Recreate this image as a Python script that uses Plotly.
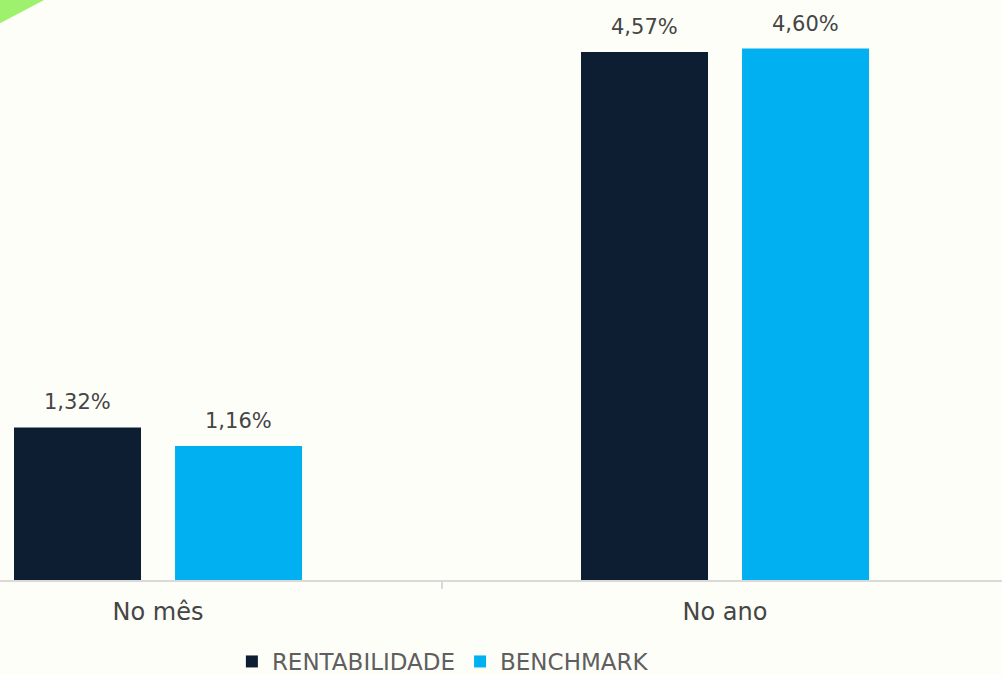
import plotly.graph_objects as go

categories = ["No mês", "No ano"]
rentabilidade = [1.32, 4.57]
benchmark = [1.16, 4.60]
series_names = ["RENTABILIDADE", "BENCHMARK"]
colors = ["#0D1E33", "#00B0F0"]

def fmt(v):
    return f"{v:.2f}".replace(".", ",") + "%"

BAR_W = 0.224
OFFSETS = [-0.254, 0.030]
FONT = "DejaVu Sans"

fig = go.Figure()
for name, vals, col, off in zip(series_names, [rentabilidade, benchmark], colors, OFFSETS):
    fig.add_trace(go.Bar(
        x=categories, y=vals, name=name, marker_color=col,
        width=BAR_W, offset=off, marker_line_width=0,
        hoverinfo="skip",
    ))
    for i, v in enumerate(vals):
        fig.add_annotation(
            x=i + off + BAR_W / 2, y=v, text=fmt(v), showarrow=False,
            yanchor="bottom", yshift=11,
            font=dict(family=FONT, size=21, color="#454545"),
        )

fig.add_shape(
    type="path", xref="paper", yref="paper",
    path="M 0 1.02 L 0.066 1.02 L 0 0.96 Z",
    fillcolor="#93F05C", line_width=0, layer="below", opacity=0.9,
)

fig.update_layout(
    width=1002, height=675,
    margin=dict(l=0, r=0, t=0, b=95, autoexpand=False),
    paper_bgcolor="#FEFEF9", plot_bgcolor="#FEFEF9",
    barmode="group",
    showlegend=True,
    legend=dict(
        orientation="h", x=0.442, xanchor="center",
        yref="container", y=0.02, yanchor="middle",
        font=dict(family=FONT, size=23, color="#5F5F5F"),
        itemwidth=30, traceorder="normal",
    ),
    xaxis=dict(
        type="category", range=[-0.2787, 1.4885],
        showline=True, linecolor="#D9D9D9", linewidth=2,
        ticks="outside", tickson="boundaries", ticklen=7, tickcolor="#D9D9D9", tickwidth=2,
        tickfont=dict(family=FONT, size=24, color="#454545"),
        ticklabelstandoff=9, showgrid=False, zeroline=False,
    ),
    yaxis=dict(range=[0, 5.02], visible=False, showgrid=False, zeroline=False),
)

fig.write_html(
    "out.html",
    config={"displayModeBar": False},
    post_script="document.body.style.margin='0';document.body.style.background='#FEFEF9';",
)
